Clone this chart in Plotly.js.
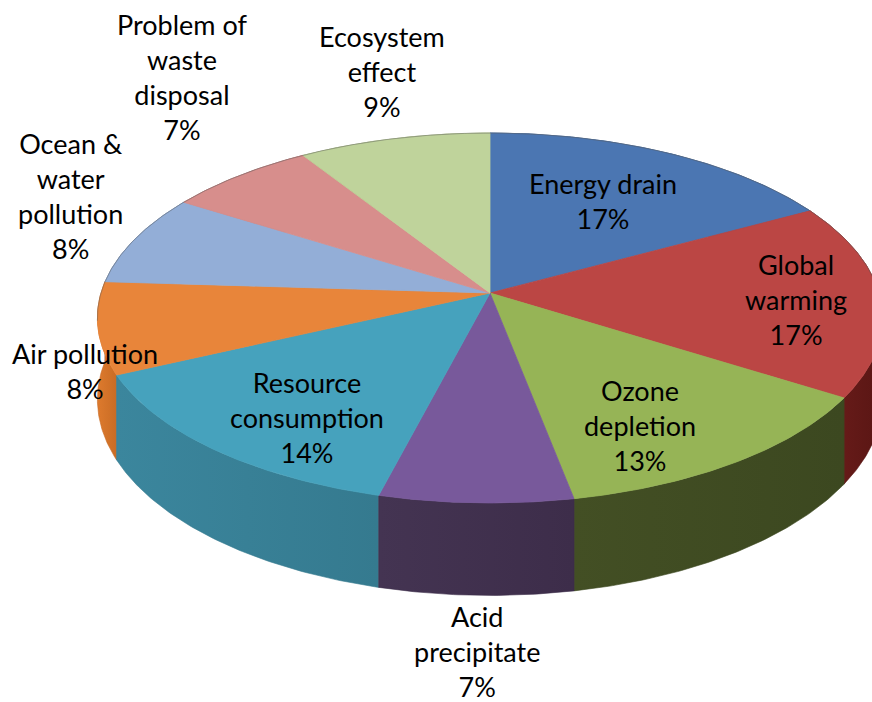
<!DOCTYPE html>
<html>
<head>
<meta charset="utf-8">
<script src="https://cdn.plot.ly/plotly-3.0.1.min.js"></script>
<style>
  html, body { margin: 0; padding: 0; background: #ffffff; }
  #chart { width: 872px; height: 702px; }
</style>
</head>
<body>
<div id="chart"></div>
<script>
// Environmental impact categories and their shares (%)
const categories = [
  'Energy drain', 'Global warming', 'Ozone depletion', 'Acid precipitate',
  'Resource consumption', 'Air pollution', 'Ocean & water pollution',
  'Problem of waste disposal', 'Ecosystem effect'
];
const values = [17, 17, 13, 7, 14, 8, 8, 7, 9];
const labelText = [
  'Energy drain', 'Global<br>warming', 'Ozone<br>depletion', 'Acid<br>precipitate',
  'Resource<br>consumption', 'Air pollution', 'Ocean &<br>water<br>pollution',
  'Problem of<br>waste<br>disposal', 'Ecosystem<br>effect'
];

// Colours: top faces, and the lit / shaded ends of each outer wall
const topColors = [
  '#4b76b2', '#bb4644', '#96b456', '#78599b', '#46a2bd',
  '#e8853a', '#93aed7', '#d78e8c', '#bfd39b'
];
const wallColors = [
  ['#2f5585', '#243f63'], ['#701e1c', '#591614'], ['#434f24', '#3c4820'],
  ['#443452', '#3d2d4a'], ['#3b869d', '#357a8f'], ['#dd7a2d', '#c96c25'],
  ['#6b86ad', '#58739a'], ['#a86664', '#8c5251'], ['#8ea06a', '#7a8b58']
];

// Label placement: radial factor on the top face, then a small pixel nudge
const labelPlace = [
  [0.60, 2, -4], [0.785, 0, 2], [0.70, -16, 18], [1.57, 11, -3],
  [0.70, 4, 19], [1.10, 27, 39], [1.15, -14, -35], [1.30, 10, -68], [1.30, 13, -27]
];

// Projection of the tilted disc (pixel space, y grows downwards)
const CX = 490, CY = 293;      // centre of the disc on screen
const A = 389, B = 181.6;      // horizontal / depth radii
const P = 0.135;               // perspective strength
const T = 80;                  // thickness of the disc

function proj(theta, r, drop) {
  const x = r * Math.sin(theta), z = r * Math.cos(theta);
  const w = 1 + P * z;
  return [CX + A * x / w, CY - B * z / w + drop * T / w];
}

const total = values.reduce((a, b) => a + b, 0);
const slices = [];
let cum = 0;
values.forEach((v, i) => {
  const a0 = 2 * Math.PI * cum / total;
  cum += v;
  const a1 = 2 * Math.PI * cum / total;
  slices.push({ i, a0, a1, mid: (a0 + a1) / 2 });
});

function arc(a0, a1, r, drop) {
  const n = Math.max(12, Math.ceil((a1 - a0) / 0.01));
  const pts = [];
  for (let k = 0; k <= n; k++) pts.push(proj(a0 + (a1 - a0) * k / n, r, drop));
  return pts;
}

const traces = [];

// Outer walls, furthest first
slices.slice().sort((s, t) => Math.cos(t.mid) - Math.cos(s.mid)).forEach(s => {
  const top = arc(s.a0, s.a1, 1, 0);
  const bot = arc(s.a0, s.a1, 1, 1).reverse();
  const pts = top.concat(bot);
  pts.push(top[0]);
  traces.push({
    type: 'scatter', mode: 'lines', hoverinfo: 'skip',
    x: pts.map(p => p[0]), y: pts.map(p => p[1]),
    fill: 'toself',
    fillcolor: wallColors[s.i][0],
    fillgradient: {
      type: 'horizontal',
      colorscale: [[0, wallColors[s.i][0]], [1, wallColors[s.i][1]]]
    },
    line: { width: 0.6, color: wallColors[s.i][1] }
  });
});

// Top faces
slices.forEach(s => {
  const pts = [proj(0, 0, 0)].concat(arc(s.a0, s.a1, 1, 0));
  pts.push(pts[0]);
  traces.push({
    type: 'scatter', mode: 'lines',
    name: categories[s.i],
    x: pts.map(p => p[0]), y: pts.map(p => p[1]),
    fill: 'toself', fillcolor: topColors[s.i],
    line: { width: 0.8, color: topColors[s.i] },
    hoveron: 'fills', hoverinfo: 'name'
  });
});

// Thin rim line round the back of the top face
const rim = arc(-Math.PI / 2 - 0.15, Math.PI / 2 + 0.15, 1, 0);
traces.push({
  type: 'scatter', mode: 'lines', hoverinfo: 'skip',
  x: rim.map(p => p[0]), y: rim.map(p => p[1]),
  line: { width: 0.8, color: 'rgba(90,90,90,0.55)' }
});

// Data labels
const annotations = slices.map(s => {
  const [r, dx, dy] = labelPlace[s.i];
  const [x, y] = proj(s.mid, r, 0);
  return {
    x: x + dx, y: y + dy, xref: 'x', yref: 'y',
    text: labelText[s.i] + '<br>' + values[s.i] + '%',
    showarrow: false, xanchor: 'center', yanchor: 'middle',
    font: { family: 'Lato, "Open Sans", sans-serif', size: 27, color: '#000000' }
  };
});

const layout = {
  width: 872, height: 702, autosize: false,
  margin: { l: 0, r: 0, t: 0, b: 0, pad: 0 },
  paper_bgcolor: '#ffffff', plot_bgcolor: '#ffffff',
  showlegend: false,
  xaxis: { range: [0, 872], visible: false, fixedrange: true },
  yaxis: { range: [702, 0], visible: false, fixedrange: true },
  annotations: annotations
};

Plotly.newPlot('chart', traces, layout, { displayModeBar: false, staticPlot: true });
</script>
</body>
</html>
